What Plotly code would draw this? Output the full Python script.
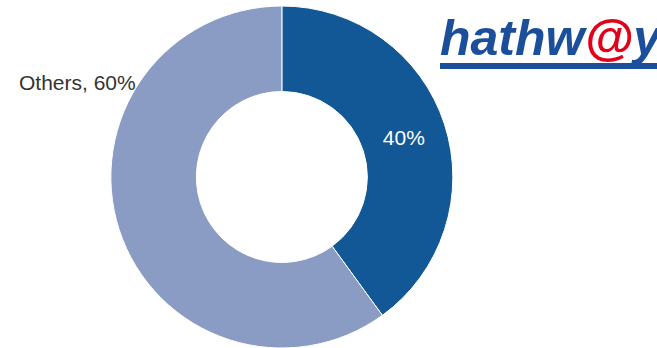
import plotly.graph_objects as go

labels = ["Hathway", "Others"]
values = [40, 60]
colors = ["#135896", "#8a9cc3"]
slice_text = ["40%", ""]

fig = go.Figure(go.Pie(
    labels=labels, values=values, sort=False, direction="clockwise", rotation=0,
    hole=0.5, marker=dict(colors=colors, line=dict(color="white", width=1)),
    text=slice_text, textinfo="text", textposition="inside",
    insidetextfont=dict(color="white", size=21, family="Liberation Sans, Arial"),
    insidetextorientation="horizontal",
    domain=dict(x=[0.168, 0.690], y=[0, 1]),
    showlegend=False, hoverinfo="label+percent",
))

fig.add_annotation(text="Others, 60%", x=17/657, y=1-78/348, xref="paper", yref="paper",
                   xanchor="left", yanchor="middle", showarrow=False,
                   font=dict(size=21, color="#333333", family="Liberation Sans, Arial"))

fig.add_annotation(text="<b><i>hathw<span style='color:#e2001a'>@</span>y</i></b>",
                   x=438/657, y=1-33/348, xref="paper", yref="paper",
                   xanchor="left", yanchor="middle", showarrow=False,
                   font=dict(size=50, color="#1b4f9c", family="Liberation Sans, Arial"))
fig.add_shape(type="rect", x0=440/657, x1=1.0, y0=1-64/348, y1=1-58/348,
              xref="paper", yref="paper", fillcolor="#1b4f9c", line_width=0)

fig.update_layout(width=657, height=348, margin=dict(l=0, r=0, t=6, b=0),
                  paper_bgcolor="white", plot_bgcolor="white")
fig.write_html("out.html")
